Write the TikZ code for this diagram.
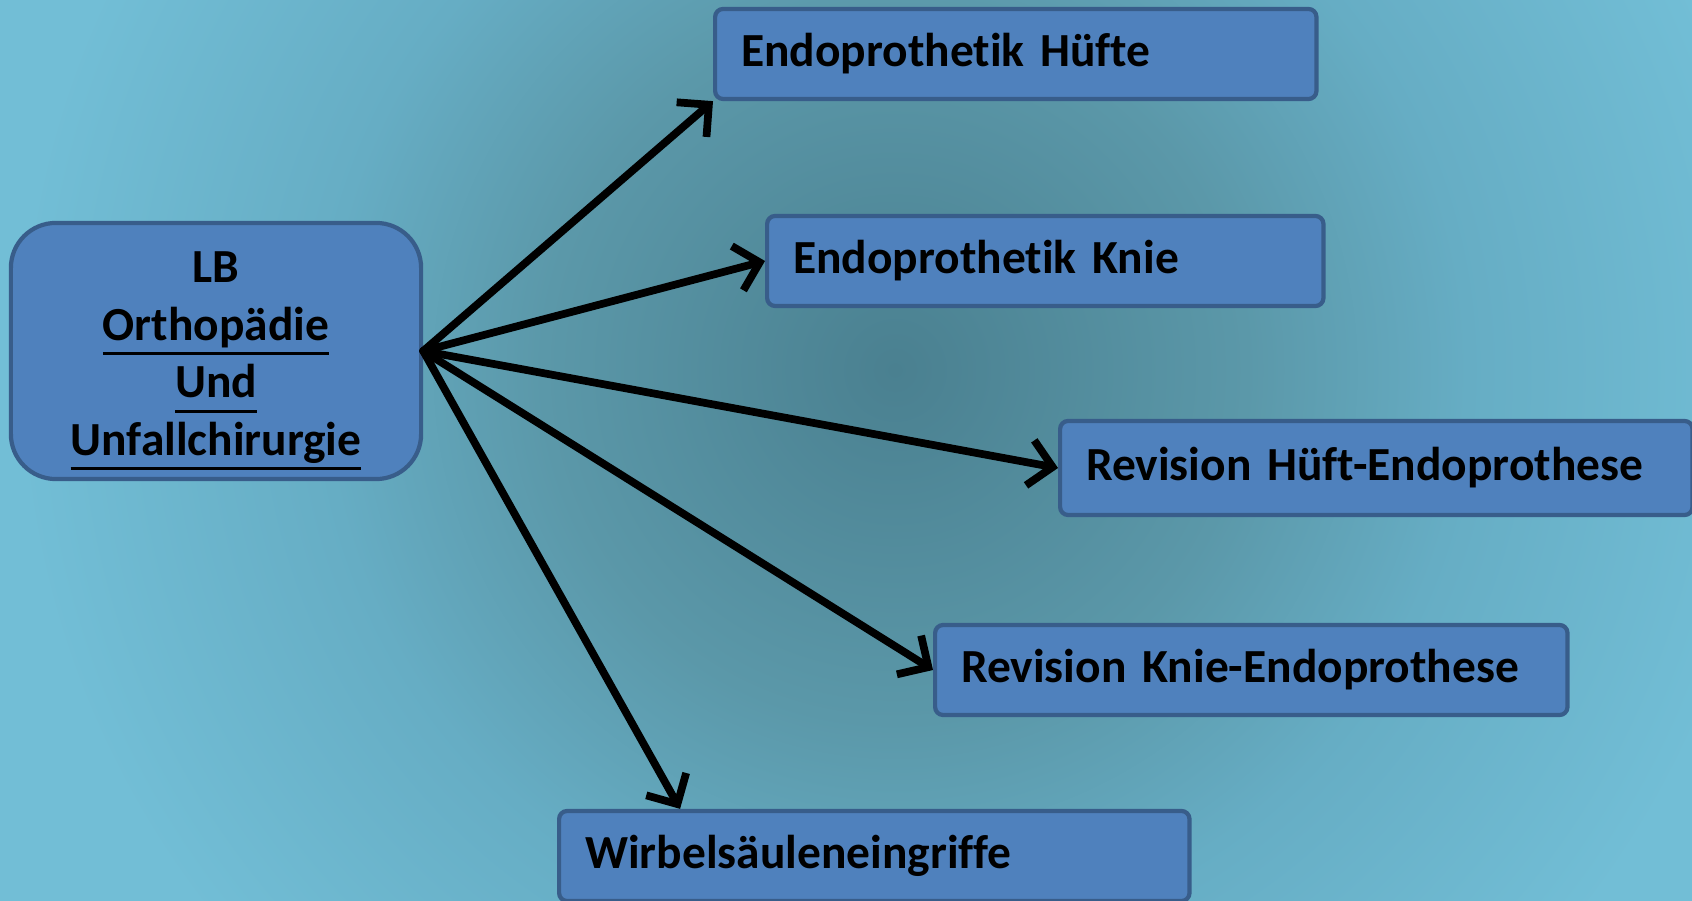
\documentclass[tikz,border=0pt]{standalone}
\usepackage{fontspec}
\setmainfont[Ligatures=NoCommon]{Carlito}
\usetikzlibrary{positioning,arrows.meta}

\newsavebox{\ulbox}
\newcommand{\ulword}[1]{\sbox{\ulbox}{#1}\rlap{\usebox{\ulbox}}\rule[-4.2pt]{\wd\ulbox}{0.9pt}}

\definecolor{bgdark}{HTML}{4A8090}
\definecolor{bgmid}{HTML}{5B98A9}
\definecolor{bgsoft}{HTML}{66ADC4}
\definecolor{bglight}{HTML}{72BED6}
\definecolor{boxfill}{HTML}{4F81BD}
\definecolor{boxline}{HTML}{385D8A}
\pgfdeclareradialshading{bgglow}{\pgfpoint{0bp}{0bp}}{color(0bp)=(bgdark); color(8bp)=(bgmid); color(13bp)=(bgsoft); color(20bp)=(bglight); color(50bp)=(bglight)}

\begin{document}
\begin{tikzpicture}[x=0.01cm,y=-0.01cm]

        \tikzstyle{arrow} = [line width=2.2pt,line cap=round,-{Straight Barb[length=6.5pt,width=13pt]}]
        \tikzset{topic/.style = {rectangle, rounded corners=0.45cm, draw=boxline, line width=1.2pt, fill=boxfill, align=center, inner ysep=0pt, minimum width=4.1cm, minimum height=2.56cm, font=\bfseries\fontsize{13.5}{16.4}\selectfont}, }
        \tikzset{field/.style = {rectangle, rounded corners=0.08cm, draw=boxline, line width=1.2pt, fill=boxfill, align=left, inner xsep=0.26cm, minimum height=0.9cm, anchor=west, font=\bfseries\fontsize{13.5}{16.4}\selectfont}, }

        % background
        \useasboundingbox (0,0) rectangle (1692,901);
        \begin{scope}
          \clip (0,0) rectangle (1692,901);
          \shade[shading=bgglow] (895,370) circle [radius=11cm];
        \end{scope}

        \node[topic] (LB) at (216,351) {\rule{0pt}{14.5pt}LB\\ \ulword{Orthopädie}\\ \ulword{Und}\\ \ulword{Unfallchirurgie}};
        \node[field, text width=5.49cm] (Huefte) at (713,54) {Endoprothetik Hüfte};
        \node[field, text width=5.04cm] (Knie) at (765,261) {Endoprothetik Knie};
        \node[field, text width=5.80cm, minimum height=0.94cm] (RevHuefte) at (1058,468) {Revision Hüft-Endoprothese};
        \node[field, text width=5.80cm] (RevKnie) at (933,670) {Revision Knie-Endoprothese};
        \node[field, text width=5.78cm] (Wirbel) at (557,856) {Wirbelsäuleneingriffe};

        \draw[arrow] (LB.east) -- (Huefte.south west);
        \draw[arrow] (LB.east) -- (Knie.west);
        \draw[arrow] (LB.east) -- (RevHuefte.west);
        \draw[arrow] (LB.east) -- (RevKnie.west);
        \draw[arrow] (LB.east) -- ([xshift=1.23cm]Wirbel.north west);

\end{tikzpicture}
\end{document}
